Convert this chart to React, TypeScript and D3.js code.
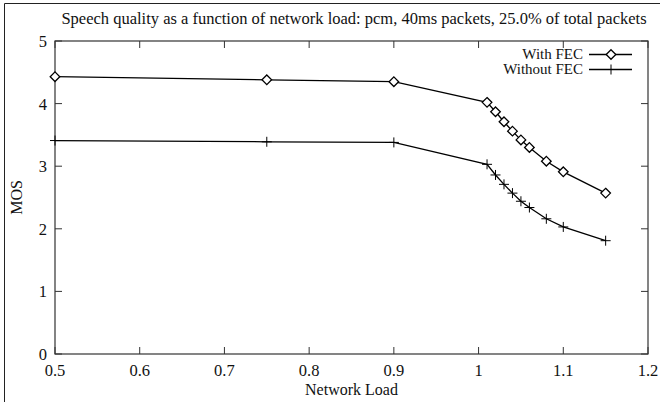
import React from 'react';
import * as d3 from 'd3';

const title = 'Speech quality as a function of network load: pcm, 40ms packets, 25.0% of total packets';

// network load values (x)
const loads = [0.5, 0.75, 0.9, 1.01, 1.02, 1.03, 1.04, 1.05, 1.06, 1.08, 1.1, 1.15];
// MOS with FEC
const withFec = [4.43, 4.38, 4.35, 4.02, 3.87, 3.71, 3.56, 3.42, 3.3, 3.08, 2.91, 2.57];
// MOS without FEC
const withoutFec = [3.41, 3.39, 3.38, 3.03, 2.86, 2.71, 2.57, 2.44, 2.34, 2.16, 2.03, 1.81];

const xTicks = [0.5, 0.6, 0.7, 0.8, 0.9, 1, 1.1, 1.2];
const yTicks = [0, 1, 2, 3, 4, 5];

const W = 660;
const H = 402;
const left = 55;
const right = 648;
const top = 41;
const bottom = 354;
const tickLen = 7;
const font = "'Liberation Serif', 'DejaVu Serif', serif";
const txt = { fontFamily: font, fill: '#111' };

const App = () => {
  const x = d3.scaleLinear().domain([0.5, 1.2]).range([left, right]);
  const y = d3.scaleLinear().domain([0, 5]).range([bottom, top]);

  const line = d3
    .line<number>()
    .x((_, i) => x(loads[i]))
    .y((d) => y(d));

  const diamond = (cx: number, cy: number, key: string | number) => (
    <path
      key={key}
      d={`M${cx},${cy - 4.8}L${cx + 4.8},${cy}L${cx},${cy + 4.8}L${cx - 4.8},${cy}Z`}
      fill="white"
      stroke="black"
      strokeWidth={1.3}
    />
  );

  const cross = (cx: number, cy: number, key: string | number) => (
    <path
      key={key}
      d={`M${cx - 5},${cy}H${cx + 5}M${cx},${cy - 5}V${cy + 5}`}
      stroke="black"
      strokeWidth={1}
    />
  );

  return (
    <svg
      width={W}
      height={H}
      style={{ position: 'absolute', left: 0, top: 0, background: 'white' }}
    >
      {/* outer frame (left and top only) */}
      <path d={`M4.5,${H}V3.5H${W}`} fill="none" stroke="#222" strokeWidth={1} />

      <text x={354} y={24} textAnchor="middle" fontSize={16.5} style={txt}>
        {title}
      </text>

      {/* plot box */}
      <rect
        x={left}
        y={top}
        width={right - left}
        height={bottom - top}
        fill="none"
        stroke="#333"
        strokeWidth={1.2}
      />

      {/* x ticks */}
      {xTicks.map((t) => (
        <g key={'x' + t}>
          <line x1={x(t)} x2={x(t)} y1={bottom} y2={bottom - tickLen} stroke="#333" />
          <line x1={x(t)} x2={x(t)} y1={top} y2={top + tickLen} stroke="#333" />
          <text x={x(t)} y={bottom + 22} textAnchor="middle" fontSize={16.5} style={txt}>
            {d3.format('~g')(t)}
          </text>
        </g>
      ))}

      {/* y ticks */}
      {yTicks.map((t) => (
        <g key={'y' + t}>
          <line x1={left} x2={left + tickLen} y1={y(t)} y2={y(t)} stroke="#333" />
          <line x1={right} x2={right - tickLen} y1={y(t)} y2={y(t)} stroke="#333" />
          <text x={47} y={y(t) + 6} textAnchor="end" fontSize={16.5} style={txt}>
            {t}
          </text>
        </g>
      ))}

      <text x={(left + right) / 2} y={395} textAnchor="middle" fontSize={16} style={txt}>
        Network Load
      </text>
      <text
        transform={`translate(22,${(top + bottom) / 2}) rotate(-90)`}
        textAnchor="middle"
        fontSize={16}
        style={txt}
      >
        MOS
      </text>

      {/* series */}
      <path d={line(withFec) || ''} fill="none" stroke="black" strokeWidth={1.3} />
      <path d={line(withoutFec) || ''} fill="none" stroke="black" strokeWidth={1.3} />
      {withFec.map((v, i) => diamond(x(loads[i]), y(v), 'd' + i))}
      {withoutFec.map((v, i) => cross(x(loads[i]), y(v), 'c' + i))}

      {/* legend */}
      <text x={583} y={59} textAnchor="end" fontSize={15} style={txt}>
        With FEC
      </text>
      <line x1={589} x2={632} y1={54.5} y2={54.5} stroke="black" strokeWidth={1.3} />
      {diamond(611, 54.5, 'ld')}
      <text x={583} y={74} textAnchor="end" fontSize={15} style={txt}>
        Without FEC
      </text>
      <line x1={589} x2={632} y1={69.5} y2={69.5} stroke="black" strokeWidth={1.3} />
      {cross(611, 69.5, 'lc')}
    </svg>
  );
};

export default App;
